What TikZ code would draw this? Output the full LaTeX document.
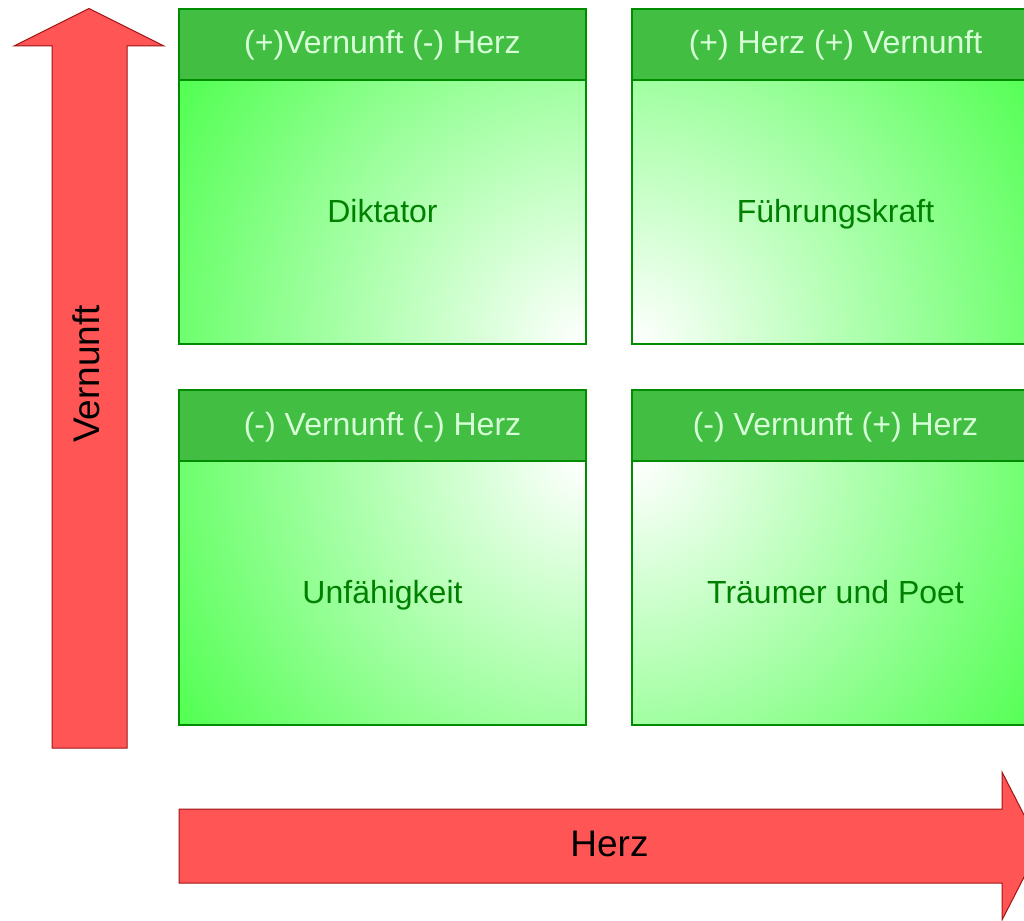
\documentclass[tikz,border=0pt]{standalone}
\usepackage{fontspec}
\setmainfont{Liberation Sans}
\definecolor{hdrgreen}{RGB}{66,190,66}
\definecolor{bordergreen}{RGB}{0,140,0}
\definecolor{qgreen}{RGB}{85,255,85}
\definecolor{hdrtext}{RGB}{215,255,215}
\definecolor{bodytext}{RGB}{0,128,0}
\definecolor{arrowred}{RGB}{255,85,85}
\definecolor{arrowborder}{RGB}{160,20,20}
\pgfdeclareradialshading{qshade}{\pgfpoint{0bp}{0bp}}{color(0bp)=(white); color(25bp)=(qgreen); color(50bp)=(qgreen)}
\begin{document}
\begin{tikzpicture}[x=1pt,y=-1pt,
  hdr/.style={draw=bordergreen, line width=1.5pt, fill=hdrgreen, text=hdrtext,
    minimum width=407pt, minimum height=71pt, inner sep=0pt,
    font=\fontsize{32}{38}\selectfont, text height=24pt, text depth=5pt},
  bodybox/.style={draw=bordergreen, line width=1.5pt, text=bodytext,
    minimum width=407pt, minimum height=264pt, inner sep=0pt,
    font=\fontsize{32}{38}\selectfont, text height=25pt, text depth=5pt},
  redarrow/.style={fill=arrowred, draw=arrowborder, line width=1pt, line join=miter},
  axislabel/.style={text=black, font=\fontsize{37}{44}\selectfont, inner sep=0pt}]
\useasboundingbox (0,0) rectangle (1024,920);
\clip (0,0) rectangle (1024,920);
\fill[white] (0,0) rectangle (1024,920);

% gradient fills of the bodies
\begin{scope}
  \clip (179,80) rectangle (586,344);
  \fill[qgreen] (179,80) rectangle (586,344);
  \shade[shading=qshade] (586,344) circle (475);
\end{scope}
\begin{scope}
  \clip (632,80) rectangle (1039,344);
  \fill[qgreen] (632,80) rectangle (1039,344);
  \shade[shading=qshade] (632,344) circle (475);
\end{scope}
\begin{scope}
  \clip (179,461) rectangle (586,725);
  \fill[qgreen] (179,461) rectangle (586,725);
  \shade[shading=qshade] (586,461) circle (475);
\end{scope}
\begin{scope}
  \clip (632,461) rectangle (1039,725);
  \fill[qgreen] (632,461) rectangle (1039,725);
  \shade[shading=qshade] (632,461) circle (475);
\end{scope}

% bodies
\node[bodybox] (tlbody) at (382.5,212) {Diktator};
\node[bodybox] (trbody) at (835.5,212) {Führungskraft};
\node[bodybox] (blbody) at (382.5,593) {Unfähigkeit};
\node[bodybox] (brbody) at (835.5,593) {Träumer und Poet};

% headers
\node[hdr] (tlhdr) at (382.5,44.5) {(+)Vernunft (-) Herz};
\node[hdr] (trhdr) at (835.5,44.5) {(+) Herz (+) Vernunft};
\node[hdr] (blhdr) at (382.5,425.5) {(-) Vernunft (-) Herz};
\node[hdr] (brhdr) at (835.5,425.5) {(-) Vernunft (+) Herz};

% vertical arrow (Vernunft)
\draw[redarrow] (52,748) -- (52,46) -- (14,46) -- (89,8.5) -- (164,46) -- (127,46) -- (127,748) -- cycle;
\node[axislabel, rotate=90] (vlabel) at (86.5,374) {Vernunft};

% horizontal arrow (Herz)
\draw[redarrow] (179,809) -- (1002,809) -- (1002,772) -- (1040,846) -- (1002,920) -- (1002,883) -- (179,883) -- cycle;
\node[axislabel] (hlabel) at (609.5,843.5) {Herz};
\end{tikzpicture}
\end{document}
